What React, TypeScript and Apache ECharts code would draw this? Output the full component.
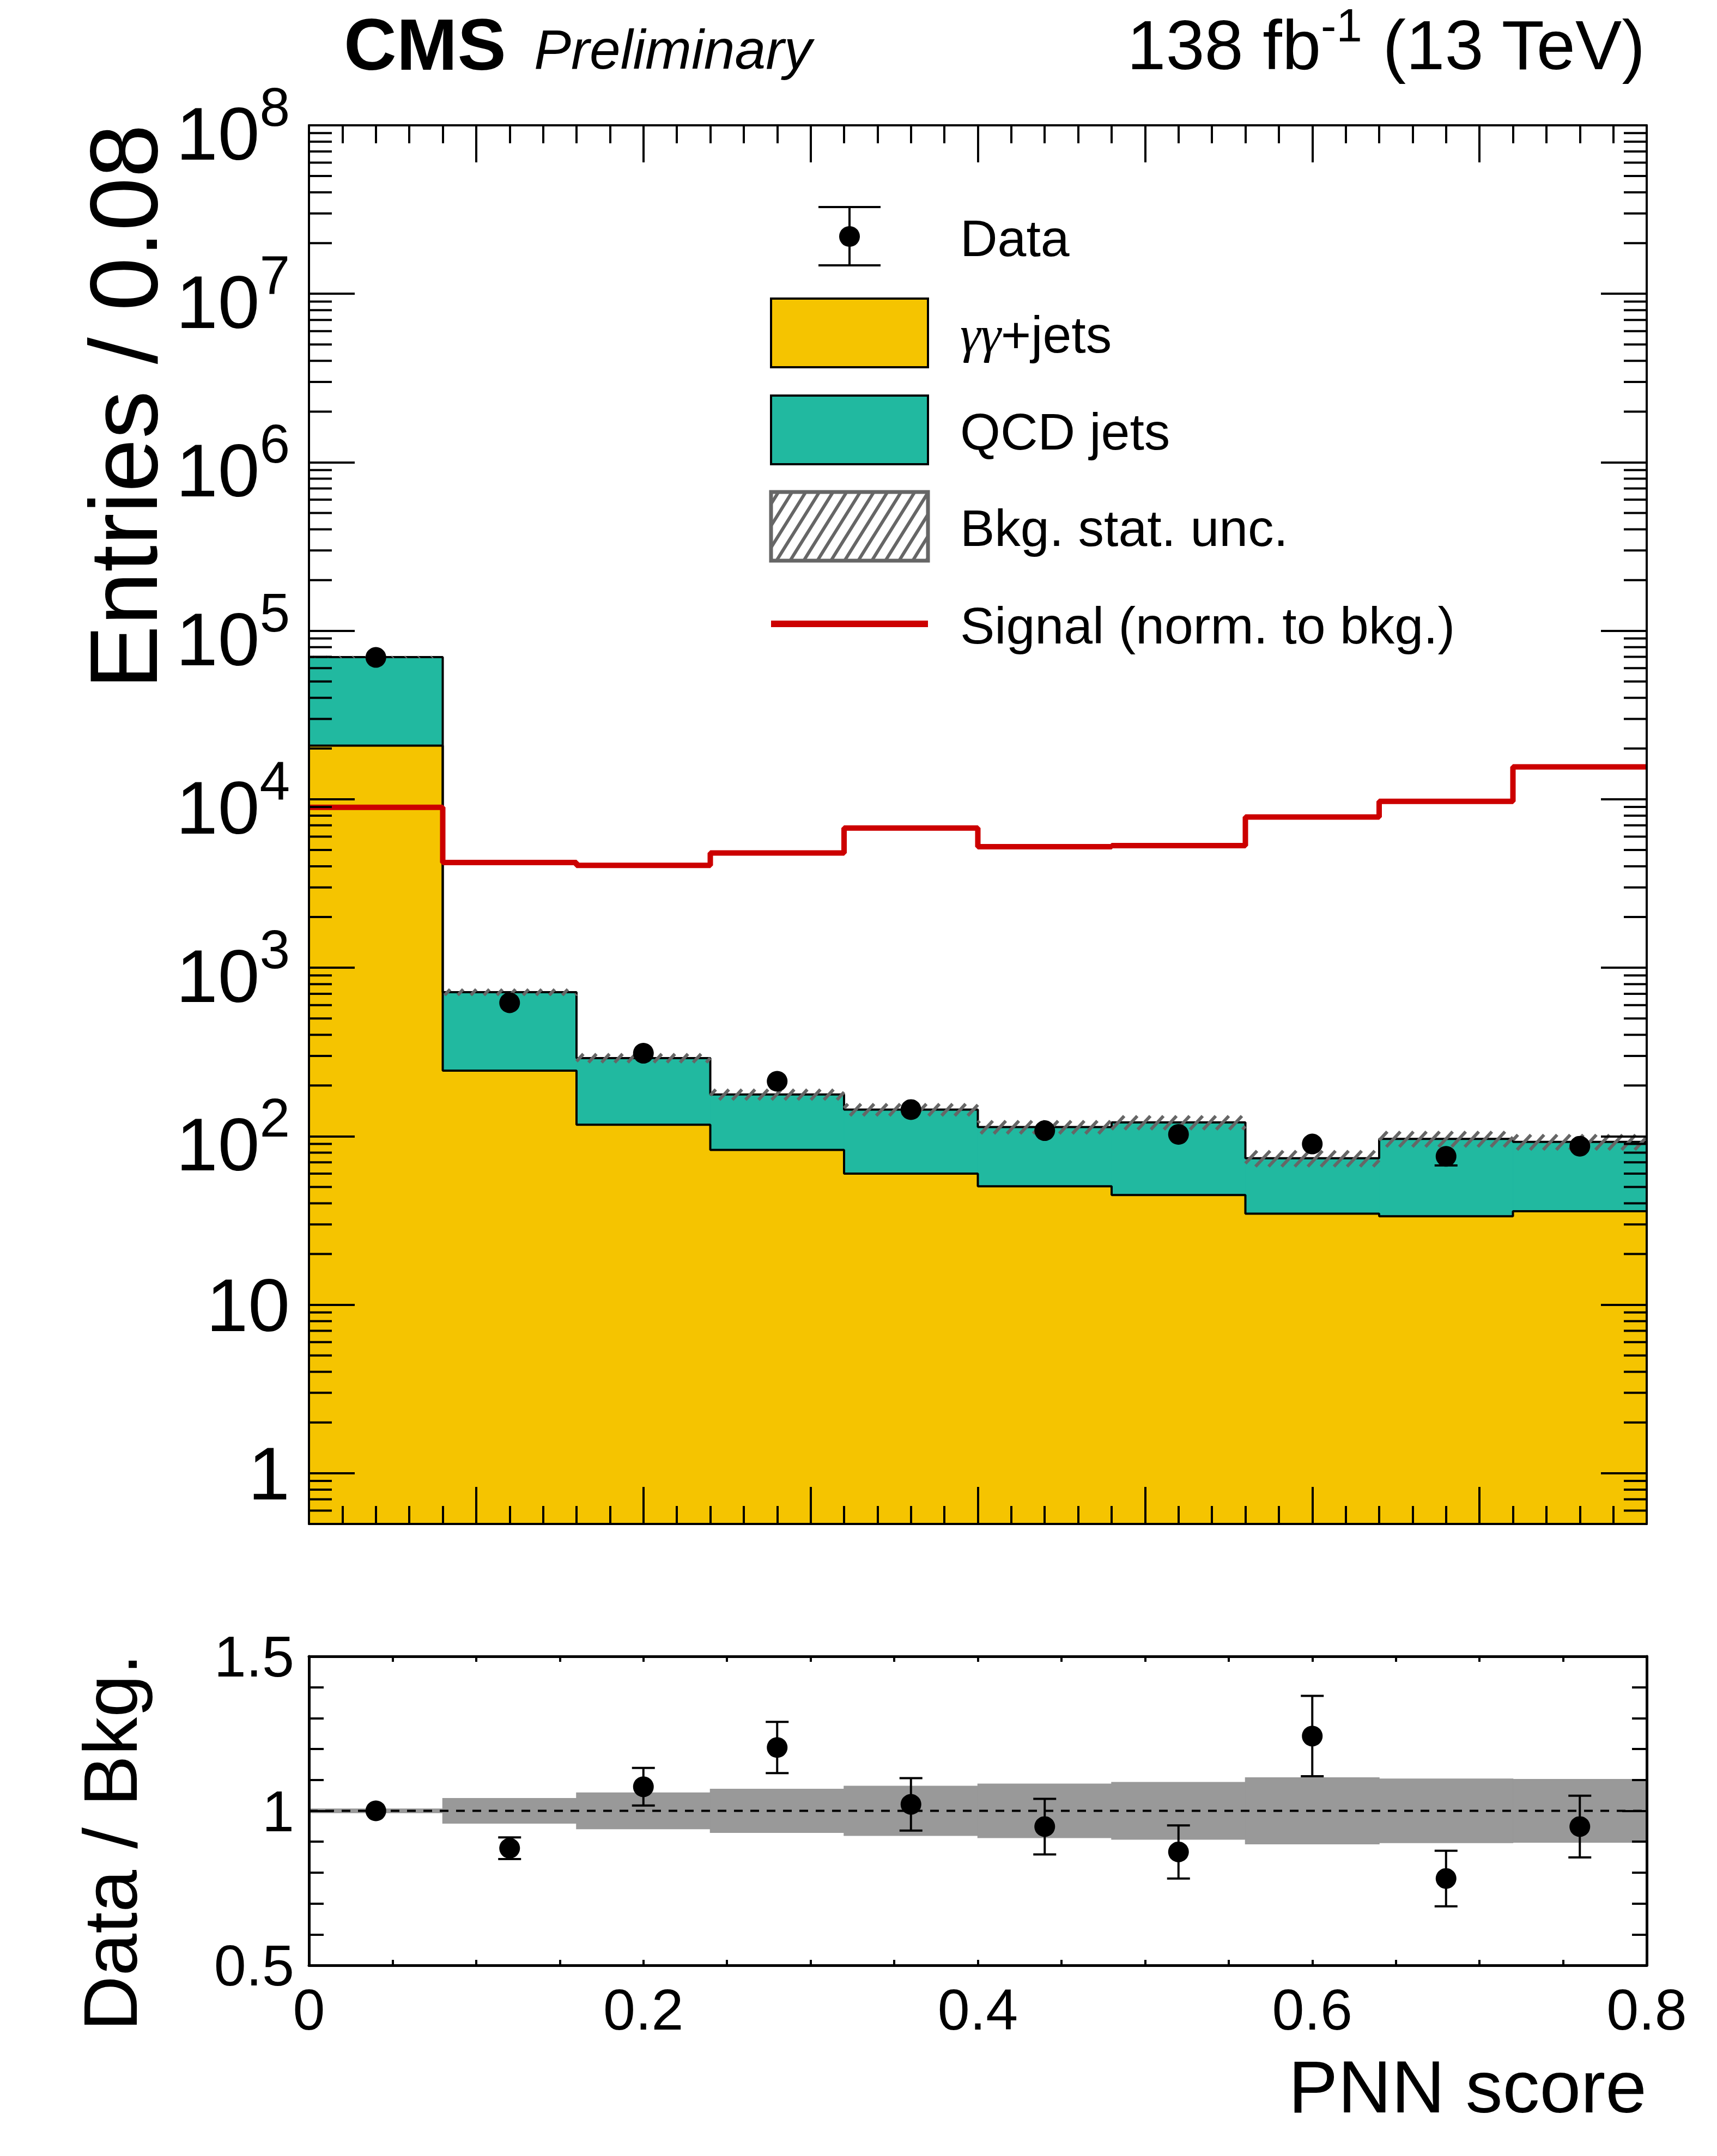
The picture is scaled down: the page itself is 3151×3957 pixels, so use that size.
import React, { useEffect, useRef } from "react";
import * as echarts from "echarts";

// ---------------- data ----------------
const binEdges = [0, 0.08, 0.16, 0.24, 0.32, 0.4, 0.48, 0.56, 0.64, 0.72, 0.8];
const gammaGammaJets = [20800, 245, 117, 83, 60, 50.5, 44.8, 34.7, 33.5, 35.9];
const qcdJets = [49000, 471, 174, 94, 84, 63, 76, 39.3, 63, 56.7];
const signalNorm = [8950, 4215, 4050, 4800, 6755, 5230, 5310, 7850, 9730, 15560];
const dataCounts = [69500, 620, 311, 212, 144, 108, 102.6, 90, 76, 87.3];
const dataErrors = [264, 25, 18, 15, 12, 10, 10, 9.5, 8.9, 9.3];
const bkgRelUnc = [0.006, 0.04, 0.058, 0.07, 0.08, 0.087, 0.092, 0.107, 0.103, 0.102];
const ratioValues = [1.0, 0.879, 1.078, 1.205, 1.021, 0.949, 0.867, 1.242, 0.781, 0.949];
const ratioErrors = [0.004, 0.035, 0.061, 0.083, 0.085, 0.09, 0.086, 0.13, 0.09, 0.1];
const legendLabels = ["Data", "γγ+jets", "QCD jets", "Bkg. stat. unc.", "Signal (norm. to bkg.)"];

// ---------------- styling / layout ----------------
const W = 3151;
const H = 3957;
const LEFT = 567;
const RIGHT = 3022;
const MAIN_TOP = 230;
const MAIN_BOTTOM = 2797;
const RATIO_TOP = 3040;
const RATIO_BOTTOM = 3607;
const FONT = "Liberation Sans";
const YELLOW = "#F5C400";
const TEAL = "#21B9A0";
const RED = "#CC0000";
const BAND_GRAY = "#999999";
const HATCH = "#666666";
const MARKER = 38;

function hatchSegments(x0: number, yTop: number, x1: number, yBot: number, spacing: number, angleDeg: number) {
  const h = yBot - yTop;
  const segs: number[][] = [];
  if (h < 0.5 || x1 <= x0) return segs;
  const run = h / Math.tan((angleDeg * Math.PI) / 180);
  const start = Math.floor((x0 - run) / spacing) * spacing;
  for (let s = start; s <= x1; s += spacing) {
    const u0 = Math.max(0, (x0 - s) / run);
    const u1 = Math.min(1, (x1 - s) / run);
    if (u1 <= u0) continue;
    segs.push([s + u0 * run, yBot - u0 * h, s + u1 * run, yBot - u1 * h]);
  }
  return segs;
}

function buildOption() {
  const nb = gammaGammaJets.length;
  const centers = binEdges.slice(0, nb).map((e, i) => (e + binEdges[i + 1]) / 2);
  const totals = gammaGammaJets.map((v, i) => v + qcdJets[i]);
  const stepData = (vals: number[]) => [
    ...vals.map((v, i) => [binEdges[i], v]),
    [binEdges[vals.length], vals[vals.length - 1]],
  ];
  const minorLogTicks: number[] = [];
  for (let k = -1; k <= 7; k++) {
    for (let m = 2; m <= 9; m++) {
      const v = m * Math.pow(10, k);
      if (v > 0.5 && v < 1e8) minorLogTicks.push(v);
    }
  }

  const rectRender = (fill: string) => (params: any, api: any) => {
    const a = api.coord([api.value(0), api.value(3)]);
    const b = api.coord([api.value(1), api.value(2)]);
    return {
      type: "rect",
      shape: { x: a[0], y: a[1], width: b[0] - a[0], height: b[1] - a[1] },
      style: { fill, stroke: fill, lineWidth: 1.5 },
    };
  };

  const hatchRender = (params: any, api: any) => {
    const a = api.coord([api.value(0), api.value(3)]);
    const b = api.coord([api.value(1), api.value(2)]);
    const segs = hatchSegments(a[0], a[1], b[0], b[1], 24, 47);
    return {
      type: "group",
      children: segs.map((s) => ({
        type: "line",
        shape: { x1: s[0], y1: s[1], x2: s[2], y2: s[3] },
        style: { stroke: HATCH, lineWidth: 6 },
      })),
    };
  };

  // error bars: a side is drawn only when it reaches beyond the marker core
  const errRender = (params: any, api: any) => {
    const x = api.value(0);
    const y = api.value(1);
    const e = api.value(2);
    const c = api.coord([x, y]);
    const top = api.coord([x, y + e]);
    const bot = api.coord([x, y - e]);
    const cw = 21;
    const thr = 16;
    const st = { stroke: "#000", lineWidth: 4 };
    const children: any[] = [];
    if (c[1] - top[1] > thr) {
      children.push({ type: "line", shape: { x1: c[0], y1: c[1], x2: top[0], y2: top[1] }, style: st });
      children.push({ type: "line", shape: { x1: top[0] - cw, y1: top[1], x2: top[0] + cw, y2: top[1] }, style: st });
    }
    if (bot[1] - c[1] > thr) {
      children.push({ type: "line", shape: { x1: c[0], y1: c[1], x2: bot[0], y2: bot[1] }, style: st });
      children.push({ type: "line", shape: { x1: bot[0] - cw, y1: bot[1], x2: bot[0] + cw, y2: bot[1] }, style: st });
    }
    return { type: "group", children };
  };

  const minorTickRender = (params: any, api: any) => {
    const cs = params.coordSys;
    const py = api.coord([0, api.value(1)])[1];
    const len = 42;
    const st = { stroke: "#000", lineWidth: 4 };
    return {
      type: "group",
      children: [
        { type: "line", shape: { x1: cs.x, y1: py, x2: cs.x + len, y2: py }, style: st },
        { type: "line", shape: { x1: cs.x + cs.width - len, y1: py, x2: cs.x + cs.width, y2: py }, style: st },
      ],
    };
  };

  const axisLineStyle = (w: number) => ({ show: true, onZero: false, lineStyle: { color: "#000", width: w } });
  const tickStyle = { color: "#000", width: 4 };

  const logFormatter = (v: number) => {
    const lg = Math.log10(v);
    const e = Math.round(lg);
    if (Math.abs(lg - e) > 1e-6) return "";
    if (e === 0) return "{p|1}";
    if (e === 1) return "{p|10}";
    return "{b|10}{s|" + e + "}";
  };

  const mainX = (position: string) => ({
    type: "value",
    gridIndex: 0,
    position,
    min: 0,
    max: 0.8,
    interval: 0.1,
    z: 50,
    axisLine: axisLineStyle(4),
    axisTick: { show: true, inside: true, length: 68, lineStyle: tickStyle },
    minorTick: { show: true, splitNumber: 5, length: 33, lineStyle: tickStyle },
    axisLabel: { show: false },
    splitLine: { show: false },
    minorSplitLine: { show: false },
  });

  const ratioX = (position: string, labels: boolean) => ({
    type: "value",
    gridIndex: 1,
    position,
    min: 0,
    max: 0.8,
    interval: 0.2,
    z: 50,
    axisLine: axisLineStyle(5),
    axisTick: { show: true, inside: true, length: 10, lineStyle: tickStyle },
    minorTick: { show: true, splitNumber: 4, length: 10, lineStyle: tickStyle },
    axisLabel: labels
      ? { show: true, fontSize: 106, fontFamily: FONT, color: "#000", margin: 28, showMinLabel: true, showMaxLabel: true }
      : { show: false },
    splitLine: { show: false },
    minorSplitLine: { show: false },
  });

  const mainY = (position: string, labels: boolean) => ({
    type: "log",
    logBase: 10,
    gridIndex: 0,
    position,
    min: 0.5,
    max: 1e8,
    splitNumber: 8,
    z: 50,
    axisLine: axisLineStyle(4),
    axisTick: { show: true, inside: true, length: 84, lineStyle: tickStyle },
    minorTick: { show: false },
    axisLabel: labels
      ? {
          show: true,
          margin: 35,
          formatter: logFormatter,
          rich: {
            p: { fontSize: 138, fontFamily: FONT, color: "#000" },
            b: { fontSize: 138, fontFamily: FONT, color: "#000", verticalAlign: "bottom" },
            s: { fontSize: 100, fontFamily: FONT, color: "#000", verticalAlign: "top", padding: [0, 0, 68, 0] },
          },
        }
      : { show: false },
    splitLine: { show: false },
    minorSplitLine: { show: false },
  });

  const ratioY = (position: string, labels: boolean) => ({
    type: "value",
    gridIndex: 1,
    position,
    min: 0.5,
    max: 1.5,
    interval: 0.5,
    z: 50,
    axisLine: axisLineStyle(5),
    axisTick: { show: true, inside: true, length: 45, lineStyle: tickStyle },
    minorTick: { show: true, splitNumber: 5, length: 27, lineStyle: tickStyle },
    axisLabel: labels
      ? { show: true, fontSize: 106, fontFamily: FONT, color: "#000", margin: 27, showMinLabel: true, showMaxLabel: true }
      : { show: false },
    splitLine: { show: false },
    minorSplitLine: { show: false },
  });

  // legend drawing (graphic)
  const LX0 = 1415;
  const LX1 = 1703;
  const LCX = (LX0 + LX1) / 2;
  const TX = 1762;
  const rowY = [434, 611, 789, 966, 1145];
  const boxH = 126;
  const legendFont = 95;
  const legendText = (i: number, extra?: any) => ({
    type: "text",
    x: TX,
    y: rowY[i] + 3,
    z: 100,
    style: Object.assign(
      {
        text: legendLabels[i],
        fontSize: legendFont,
        fontFamily: FONT,
        fill: "#000",
        align: "left",
        textAlign: "left",
        verticalAlign: "middle",
        textVerticalAlign: "middle",
      },
      extra || {}
    ),
  });
  const hatchBoxY0 = rowY[3] - boxH / 2;
  const legendHatch = hatchSegments(LX0, hatchBoxY0, LX1, hatchBoxY0 + boxH, 25, 58).map((s) => ({
    type: "line",
    z: 100,
    shape: { x1: s[0], y1: s[1], x2: s[2], y2: s[3] },
    style: { stroke: HATCH, lineWidth: 6 },
  }));

  const graphic: any[] = [
    {
      type: "text",
      x: 631,
      y: 81,
      style: { text: "CMS", fontSize: 134, fontWeight: "bold", fontFamily: FONT, fill: "#000", align: "left", verticalAlign: "middle", textAlign: "left", textVerticalAlign: "middle" },
    },
    {
      type: "text",
      x: 980,
      y: 91,
      style: { text: "Preliminary", fontSize: 102, fontStyle: "italic", fontFamily: FONT, fill: "#000", align: "left", verticalAlign: "middle", textAlign: "left", textVerticalAlign: "middle" },
    },
    {
      type: "text",
      x: 3019,
      y: 75,
      style: {
        text: "{m|138 fb}{s|-1}{m| (13 TeV)}",
        align: "right",
        textAlign: "right",
        verticalAlign: "middle",
        textVerticalAlign: "middle",
        fill: "#000",
        fontFamily: FONT,
        fontSize: 128,
        rich: {
          m: { fontSize: 128, fontFamily: FONT, fill: "#000", color: "#000", verticalAlign: "bottom" },
          s: { fontSize: 85, fontFamily: FONT, fill: "#000", color: "#000", verticalAlign: "top", padding: [0, 0, 58, 0] },
        },
      },
    },
    {
      type: "text",
      x: 227,
      y: 228,
      rotation: Math.PI / 2,
      style: { text: "Entries / 0.08", fontSize: 176, fontFamily: FONT, fill: "#000", align: "right", textAlign: "right", verticalAlign: "middle", textVerticalAlign: "middle" },
    },
    {
      type: "text",
      x: 202,
      y: 3035,
      rotation: Math.PI / 2,
      style: { text: "Data / Bkg.", fontSize: 140, fontFamily: FONT, fill: "#000", align: "right", textAlign: "right", verticalAlign: "middle", textVerticalAlign: "middle" },
    },
    {
      type: "text",
      x: RIGHT,
      y: 3830,
      style: { text: "PNN score", fontSize: 136, fontFamily: FONT, fill: "#000", align: "right", textAlign: "right", verticalAlign: "middle", textVerticalAlign: "middle" },
    },
    // legend: data
    { type: "line", z: 100, shape: { x1: LCX, y1: 380, x2: LCX, y2: 487 }, style: { stroke: "#000", lineWidth: 4 } },
    { type: "line", z: 100, shape: { x1: LCX - 57, y1: 380, x2: LCX + 57, y2: 380 }, style: { stroke: "#000", lineWidth: 4 } },
    { type: "line", z: 100, shape: { x1: LCX - 57, y1: 487, x2: LCX + 57, y2: 487 }, style: { stroke: "#000", lineWidth: 4 } },
    { type: "circle", z: 100, shape: { cx: LCX, cy: rowY[0], r: 19 }, style: { fill: "#000" } },
    legendText(0),
    // legend: gamma gamma + jets
    { type: "rect", z: 100, shape: { x: LX0, y: rowY[1] - boxH / 2, width: LX1 - LX0, height: boxH }, style: { fill: YELLOW, stroke: "#000", lineWidth: 4 } },
    legendText(1, {
      text: "{g|γγ}{t|+jets}",
      rich: {
        g: { fontSize: legendFont, fontFamily: "Liberation Serif", fontStyle: "italic", fill: "#000", color: "#000" },
        t: { fontSize: legendFont, fontFamily: FONT, fill: "#000", color: "#000" },
      },
    }),
    // legend: QCD jets
    { type: "rect", z: 100, shape: { x: LX0, y: rowY[2] - boxH / 2, width: LX1 - LX0, height: boxH }, style: { fill: TEAL, stroke: "#000", lineWidth: 4 } },
    legendText(2),
    // legend: hatch
    { type: "rect", z: 100, shape: { x: LX0, y: hatchBoxY0, width: LX1 - LX0, height: boxH }, style: { fill: "#fff", stroke: null } },
    ...legendHatch,
    { type: "rect", z: 101, shape: { x: LX0, y: hatchBoxY0, width: LX1 - LX0, height: boxH }, style: { fill: null, stroke: HATCH, lineWidth: 7 } },
    legendText(3),
    // legend: signal
    { type: "line", z: 100, shape: { x1: LX0, y1: rowY[4], x2: LX1, y2: rowY[4] }, style: { stroke: RED, lineWidth: 12 } },
    legendText(4),
  ];

  return {
    animation: false,
    backgroundColor: "#fff",
    textStyle: { fontFamily: FONT },
    grid: [
      { left: LEFT, top: MAIN_TOP, width: RIGHT - LEFT, height: MAIN_BOTTOM - MAIN_TOP, show: false, containLabel: false, outerBoundsMode: "none" },
      { left: LEFT, top: RATIO_TOP, width: RIGHT - LEFT, height: RATIO_BOTTOM - RATIO_TOP, show: false, containLabel: false, outerBoundsMode: "none" },
    ],
    xAxis: [mainX("bottom"), mainX("top"), ratioX("bottom", true), ratioX("top", false)],
    yAxis: [mainY("left", true), mainY("right", false), ratioY("left", true), ratioY("right", false)],
    graphic,
    series: [
      {
        name: "γγ+jets",
        type: "custom",
        xAxisIndex: 0,
        yAxisIndex: 0,
        z: 2,
        renderItem: rectRender(YELLOW),
        encode: { x: [0, 1], y: [2, 3] },
        data: gammaGammaJets.map((v, i) => [binEdges[i], binEdges[i + 1], 0.5, v]),
      },
      {
        name: "QCD jets",
        type: "custom",
        xAxisIndex: 0,
        yAxisIndex: 0,
        z: 2,
        renderItem: rectRender(TEAL),
        encode: { x: [0, 1], y: [2, 3] },
        data: totals.map((v, i) => [binEdges[i], binEdges[i + 1], gammaGammaJets[i], v]),
      },
      {
        name: "γγ+jets outline",
        type: "line",
        xAxisIndex: 0,
        yAxisIndex: 0,
        z: 3,
        step: "end",
        showSymbol: false,
        symbol: "none",
        lineStyle: { color: "#000", width: 4 },
        data: stepData(gammaGammaJets),
      },
      {
        name: "Total bkg outline",
        type: "line",
        xAxisIndex: 0,
        yAxisIndex: 0,
        z: 3,
        step: "end",
        showSymbol: false,
        symbol: "none",
        lineStyle: { color: "#000", width: 4 },
        data: stepData(totals),
      },
      {
        name: "Bkg. stat. unc.",
        type: "custom",
        xAxisIndex: 0,
        yAxisIndex: 0,
        z: 4,
        renderItem: hatchRender,
        encode: { x: [0, 1], y: [2, 3] },
        data: totals.map((v, i) => [binEdges[i], binEdges[i + 1], v * (1 - bkgRelUnc[i]), v * (1 + bkgRelUnc[i])]),
      },
      {
        name: "Signal (norm. to bkg.)",
        type: "line",
        xAxisIndex: 0,
        yAxisIndex: 0,
        z: 5,
        step: "end",
        showSymbol: false,
        symbol: "none",
        lineStyle: { color: RED, width: 10 },
        data: stepData(signalNorm),
      },
      {
        name: "Data errors",
        type: "custom",
        xAxisIndex: 0,
        yAxisIndex: 0,
        z: 6,
        renderItem: errRender,
        encode: { x: 0, y: 1 },
        data: dataCounts.map((v, i) => [centers[i], v, dataErrors[i]]),
      },
      {
        name: "Data",
        type: "scatter",
        xAxisIndex: 0,
        yAxisIndex: 0,
        z: 7,
        symbol: "circle",
        symbolSize: MARKER,
        itemStyle: { color: "#000", opacity: 1 },
        data: dataCounts.map((v, i) => [centers[i], v]),
      },
      {
        name: "log minor ticks",
        type: "custom",
        xAxisIndex: 0,
        yAxisIndex: 0,
        z: 50,
        silent: true,
        renderItem: minorTickRender,
        encode: { x: 0, y: 1 },
        data: minorLogTicks.map((v) => [0, v]),
      },
      // ratio panel
      {
        name: "Ratio band",
        type: "custom",
        xAxisIndex: 2,
        yAxisIndex: 2,
        z: 2,
        renderItem: rectRender(BAND_GRAY),
        encode: { x: [0, 1], y: [2, 3] },
        data: bkgRelUnc.map((u, i) => [binEdges[i], binEdges[i + 1], 1 - u, 1 + u]),
      },
      {
        name: "Unity",
        type: "line",
        xAxisIndex: 2,
        yAxisIndex: 2,
        z: 3,
        showSymbol: false,
        symbol: "none",
        lineStyle: { color: "#000", width: 4, type: [16, 14] },
        data: [
          [binEdges[0], 1],
          [binEdges[binEdges.length - 1], 1],
        ],
      },
      {
        name: "Ratio errors",
        type: "custom",
        xAxisIndex: 2,
        yAxisIndex: 2,
        z: 4,
        renderItem: errRender,
        encode: { x: 0, y: 1 },
        data: ratioValues.map((v, i) => [centers[i], v, ratioErrors[i]]),
      },
      {
        name: "Ratio",
        type: "scatter",
        xAxisIndex: 2,
        yAxisIndex: 2,
        z: 5,
        symbol: "circle",
        symbolSize: MARKER,
        itemStyle: { color: "#000", opacity: 1 },
        data: ratioValues.map((v, i) => [centers[i], v]),
      },
    ],
  };
}

export default function App() {
  const ref = useRef<HTMLDivElement>(null);
  useEffect(() => {
    document.body.style.margin = "0";
    const chart = echarts.init(ref.current as HTMLDivElement, null, { renderer: "svg", width: W, height: H });
    chart.setOption(buildOption() as any);
    return () => chart.dispose();
  }, []);
  return <div ref={ref} style={{ width: W, height: H, background: "#fff" }} />;
}
